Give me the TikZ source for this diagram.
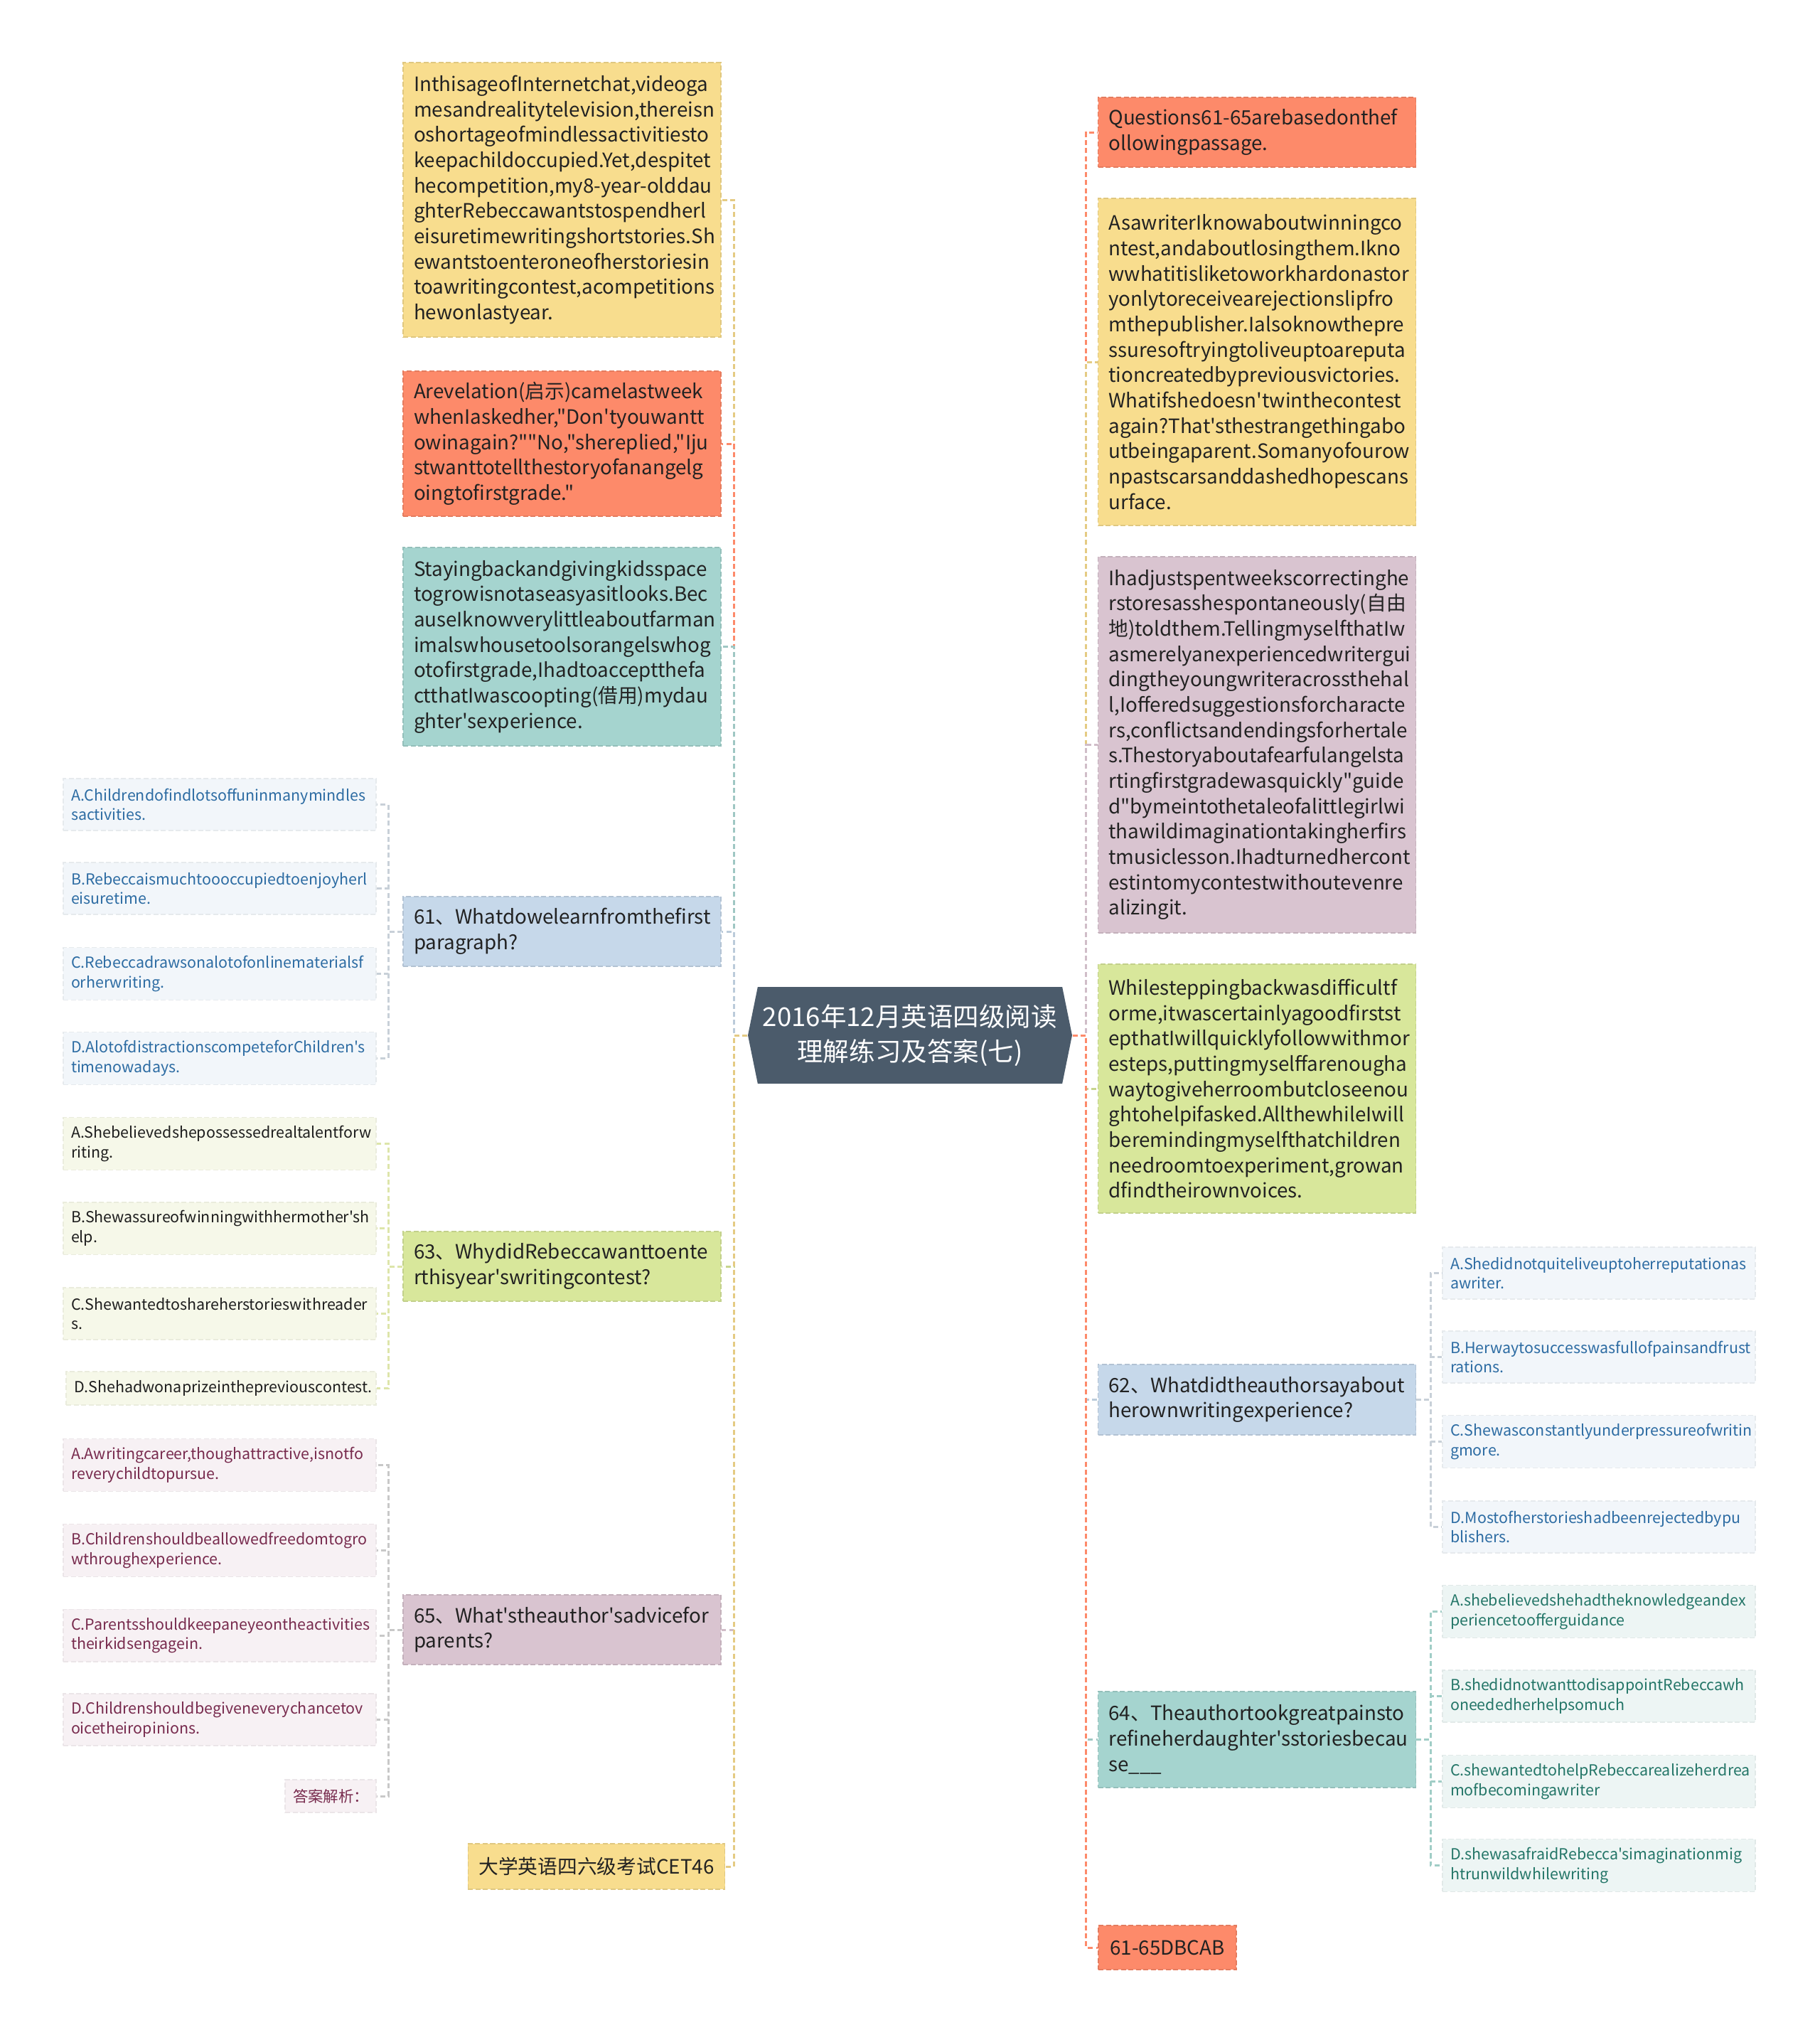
\documentclass[tikz,border=0pt]{standalone}
\usepackage{fontspec}
\usetikzlibrary{positioning, shapes.symbols}
\newfontfamily\yahei{Noto Sans CJK SC}
\definecolor{cyel}{RGB}{248,221,142}
\definecolor{corg}{RGB}{253,138,106}
\definecolor{cteal}{RGB}{165,212,207}
\definecolor{cblue}{RGB}{198,216,234}
\definecolor{cgrn}{RGB}{216,231,155}
\definecolor{cmauve}{RGB}{217,196,208}
\definecolor{cdark}{RGB}{75,91,107}
\definecolor{cink}{RGB}{34,34,34}
\definecolor{obl}{RGB}{242,246,250}
\definecolor{ogr}{RGB}{246,248,233}
\definecolor{omv}{RGB}{247,241,244}
\definecolor{otl}{RGB}{237,245,244}
\definecolor{tbl}{RGB}{45,108,163}
\definecolor{tgr}{RGB}{30,30,30}
\definecolor{tmv}{RGB}{120,43,78}
\definecolor{ttl}{RGB}{36,118,104}
\definecolor{gbl}{RGB}{200,208,216}
\definecolor{ggr}{RGB}{221,229,170}
\definecolor{gmv}{RGB}{200,200,200}
\definecolor{gtl}{RGB}{160,205,198}
\newcommand{\bodyfs}{\fontsize{7.9}{10.15}\selectfont}
\newcommand{\optfs}{\fontsize{6.1}{7.9}\selectfont}

\begin{document}
\begin{tikzpicture}[font=\yahei,
    hub/.style={signal, signal to=west and east, signal pointer angle=157, fill=cdark, text=white,
      align=center, minimum width=4.56cm, minimum height=1.36cm, inner sep=0pt,
      font=\yahei\fontsize{10.4}{14}\selectfont},
    topic/.style={draw=#1!90!black, dash pattern=on 2pt off 1pt, line width=0.4pt, fill=#1, text=cink,
      text width=4.17cm, align=left, inner xsep=0.15cm, minimum width=4.47cm, font=\yahei\bodyfs},
    badge/.style={draw=#1!90!black, dash pattern=on 2pt off 1pt, line width=0.4pt, fill=#1, text=cink,
      align=center, inner xsep=0.15cm, font=\yahei\bodyfs},
    choice/.style 2 args={draw=#1!95!black, dash pattern=on 2pt off 1pt, line width=0.4pt, fill=#1, text=#2,
      text width=4.18cm, align=left, inner xsep=0.11cm, minimum height=0.73cm, font=\yahei\optfs},
    link/.style={draw=#1, dash pattern=on 2pt off 1.2pt, line width=0.85pt}]

  \path[fill=white, use as bounding box] (0,0) rectangle (25.6,-28.62);

  % --- centre ---
  \node[hub] (ct) at (12.80,-14.56) {2016年12月英语四级阅读\\理解练习及答案(七)};

  % --- left branch ---
  \node[topic=cyel, minimum height=3.86cm] (p1) at (7.905,-2.81) {InthisageofInternetchat,videoga\\mesandrealitytelevision,thereisn\\oshortageofmindlessactivitiesto\\keepachildoccupied.Yet,despitet\\\mbox{hecompetition,my8-year-olddau}\\ghterRebeccawantstospendherl\\eisuretimewritingshortstories.Sh\\ewantstoenteroneofherstoriesin\\toawritingcontest,acompetitions\\hewonlastyear.};
  \node[topic=corg, minimum height=2.04cm] (p2) at (7.905,-6.24) {Arevelation(启示)camelastweek\\whenIaskedher,"Don'tyouwantt\\owinagain?""No,"shereplied,"Iju\\stwanttotellthestoryofanangelg\\oingtofirstgrade."};
  \node[topic=cteal, minimum height=2.79cm] (p3) at (7.905,-9.095) {Stayingbackandgivingkidsspace\\togrowisnotaseasyasitlooks.Bec\\auseIknowverylittleaboutfarman\\imalswhousetoolsorangelswhog\\otofirstgrade,Ihadtoacceptthefa\\ctthatIwascoopting(借用)mydau\\ghter'sexperience.};
  \node[topic=cblue, minimum height=0.98cm] (q61) at (7.905,-13.10) {61、Whatdowelearnfromthefirst\\paragraph?};
  \node[topic=cgrn, minimum height=0.98cm] (q63) at (7.905,-17.81) {63、WhydidRebeccawanttoente\\rthisyear'swritingcontest?};
  \node[topic=cmauve, minimum height=0.98cm] (q65) at (7.905,-22.92) {65、What'stheauthor'sadvicefor\\parents?};
  \node[badge=cyel, minimum width=3.50cm, minimum height=0.64cm] (src) at (8.39,-26.25) {大学英语四六级考试CET46};

  % --- right branch ---
  \node[topic=corg, minimum height=0.98cm] (head) at (17.68,-1.86) {Questions61-65arebasedonthef\\ollowingpassage.};
  \node[topic=cyel, minimum height=4.60cm] (p4) at (17.68,-5.09) {AsawriterIknowaboutwinningco\\ntest,andaboutlosingthem.Ikno\\wwhatitisliketoworkhardonastor\\yonlytoreceivearejectionslipfro\\mthepublisher.Ialsoknowthepre\\ssuresoftryingtoliveuptoareputa\\tioncreatedbypreviousvictories.\\Whatifshedoesn'twinthecontest\\again?That'sthestrangethingabo\\utbeingaparent.Somanyofourow\\npastscarsanddashedhopescans\\urface.};
  \node[topic=cmauve, minimum height=5.29cm] (p5) at (17.68,-10.475) {Ihadjustspentweekscorrectinghe\\rstoresasshespontaneously(自由\\地)toldthem.TellingmyselfthatIw\\asmerelyanexperiencedwritergui\\dingtheyoungwriteracrossthehal\\l,Iofferedsuggestionsforcharacte\\rs,conflictsandendingsforhertale\\s.Thestoryaboutafearfulangelsta\\rtingfirstgradewasquickly"guide\\d"bymeintothetaleofalittlegirlwi\\thawildimaginationtakingherfirs\\tmusiclesson.Ihadturnedhercont\\estintomycontestwithoutevenre\\alizingit.};
  \node[topic=cgrn, minimum height=3.50cm] (p6) at (17.68,-15.31) {Whilesteppingbackwasdifficultf\\orme,itwascertainlyagoodfirstst\\epthatIwillquicklyfollowwithmor\\esteps,puttingmyselffarenougha\\waytogiveherroombutcloseenou\\ghtohelpifasked.AllthewhileIwill\\beremindingmyselfthatchildren\\needroomtoexperiment,growan\\dfindtheirownvoices.};
  \node[topic=cblue, minimum height=0.99cm] (q62) at (17.68,-19.685) {62、Whatdidtheauthorsayabout\\herownwritingexperience?};
  \node[topic=cteal, minimum height=1.35cm] (q64) at (17.68,-24.465) {64、Theauthortookgreatpainsto\\refineherdaughter'sstoriesbecau\\se\_\_\_};
  \node[badge=corg, minimum width=1.94cm, minimum height=0.62cm] (ans) at (16.42,-27.39) {61-65DBCAB};

  % --- choices, left ---
  \node[choice={obl}{tbl}] (q61a) at (3.09,-11.315) {A.Childrendofindlotsoffuninmanymindles\\sactivities.};
  \node[choice={obl}{tbl}] (q61b) at (3.09,-12.495) {B.Rebeccaismuchtoooccupiedtoenjoyherl\\eisuretime.};
  \node[choice={obl}{tbl}] (q61c) at (3.09,-13.695) {C.Rebeccadrawsonalotofonlinematerialsf\\orherwriting.};
  \node[choice={obl}{tbl}] (q61d) at (3.09,-14.885) {D.AlotofdistractionscompeteforChildren's\\timenowadays.};
  \node[choice={ogr}{tgr}] (q63a) at (3.09,-16.085) {A.Shebelievedshepossessedrealtalentforw\\riting.};
  \node[choice={ogr}{tgr}] (q63b) at (3.09,-17.275) {B.Shewassureofwinningwithhermother'sh\\elp.};
  \node[choice={ogr}{tgr}] (q63c) at (3.09,-18.475) {C.Shewantedtoshareherstorieswithreader\\s.};
  \node[choice={ogr}{tgr}, text width=4.14cm, minimum height=0.47cm] (q63d) at (3.11,-19.525) {D.Shehadwonaprizeinthepreviouscontest.};
  \node[choice={omv}{tmv}] (q65a) at (3.09,-20.605) {A.Awritingcareer,thoughattractive,isnotfo\\reverychildtopursue.};
  \node[choice={omv}{tmv}] (q65b) at (3.09,-21.805) {B.Childrenshouldbeallowedfreedomtogro\\wthroughexperience.};
  \node[choice={omv}{tmv}] (q65c) at (3.09,-23.00) {C.Parentsshouldkeepaneyeontheactivities\\theirkidsengagein.};
  \node[choice={omv}{tmv}] (q65d) at (3.09,-24.185) {D.Childrenshouldbegiveneverychancetov\\oicetheiropinions.};
  \node[choice={omv}{tmv}, text width=1.06cm, align=center, minimum height=0.46cm] (jx) at (4.65,-25.26) {答案解析：};

  % --- choices, right ---
  \node[choice={obl}{tbl}] (q62a) at (22.49,-17.905) {A.Shedidnotquiteliveuptoherreputationas\\awriter.};
  \node[choice={obl}{tbl}] (q62b) at (22.49,-19.085) {B.Herwaytosuccesswasfullofpainsandfrust\\rations.};
  \node[choice={obl}{tbl}] (q62c) at (22.49,-20.275) {C.Shewasconstantlyunderpressureofwritin\\gmore.};
  \node[choice={obl}{tbl}] (q62d) at (22.49,-21.475) {D.Mostofherstorieshadbeenrejectedbypu\\blishers.};
  \node[choice={otl}{ttl}] (q64a) at (22.49,-22.665) {A.shebelievedshehadtheknowledgeandex\\periencetoofferguidance};
  \node[choice={otl}{ttl}] (q64b) at (22.49,-23.855) {B.shedidnotwanttodisappointRebeccawh\\oneededherhelpsomuch};
  \node[choice={otl}{ttl}] (q64c) at (22.49,-25.055) {C.shewantedtohelpRebeccarealizeherdrea\\mofbecomingawriter};
  \node[choice={otl}{ttl}] (q64d) at (22.49,-26.235) {D.shewasafraidRebecca'simaginationmig\\htrunwildwhilewriting};

  % --- links from the centre ---
  \draw[link=cyel!92!black] (ct.west) -- ++(-0.19,0) |- (p1.east);
  \draw[link=corg] (ct.west) -- ++(-0.19,0) |- (p2.east);
  \draw[link=cteal!85!gray] (ct.west) -- ++(-0.19,0) |- (p3.east);
  \draw[link=cblue!85!gray] (ct.west) -- ++(-0.19,0) |- (q61.east);
  \draw[link=cgrn!92!black] (ct.west) -- ++(-0.19,0) |- (q63.east);
  \draw[link=cmauve!90!gray] (ct.west) -- ++(-0.19,0) |- (q65.east);
  \draw[link=cyel!92!black] (ct.west) -- ++(-0.19,0) |- (src.east);

  \draw[link=corg] (ct.east) -- ++(0.19,0) |- (head.west);
  \draw[link=cyel!92!black] (ct.east) -- ++(0.19,0) |- (p4.west);
  \draw[link=cmauve!90!gray] (ct.east) -- ++(0.19,0) |- (p5.west);
  \draw[link=cgrn!92!black] (ct.east) -- ++(0.19,0) |- (p6.west);
  \draw[link=cblue!85!gray] (ct.east) -- ++(0.19,0) |- (q62.west);
  \draw[link=cteal!85!gray] (ct.east) -- ++(0.19,0) |- (q64.west);
  \draw[link=corg] (ct.east) -- ++(0.19,0) |- (ans.west);

  % --- links to the choices ---
  \foreach \k in {a,b,c,d} {
    \draw[link=gbl] (q61.west) -- ++(-0.20,0) |- (q61\k.east);
    \draw[link=ggr] (q63.west) -- ++(-0.20,0) |- (q63\k.east);
    \draw[link=gmv] (q65.west) -- ++(-0.20,0) |- (q65\k.east);
    \draw[link=gbl] (q62.east) -- ++(0.20,0) |- (q62\k.west);
    \draw[link=gtl] (q64.east) -- ++(0.20,0) |- (q64\k.west);
  }
  \draw[link=gmv] (q65.west) -- ++(-0.20,0) |- (jx.east);
\end{tikzpicture}
\end{document}
